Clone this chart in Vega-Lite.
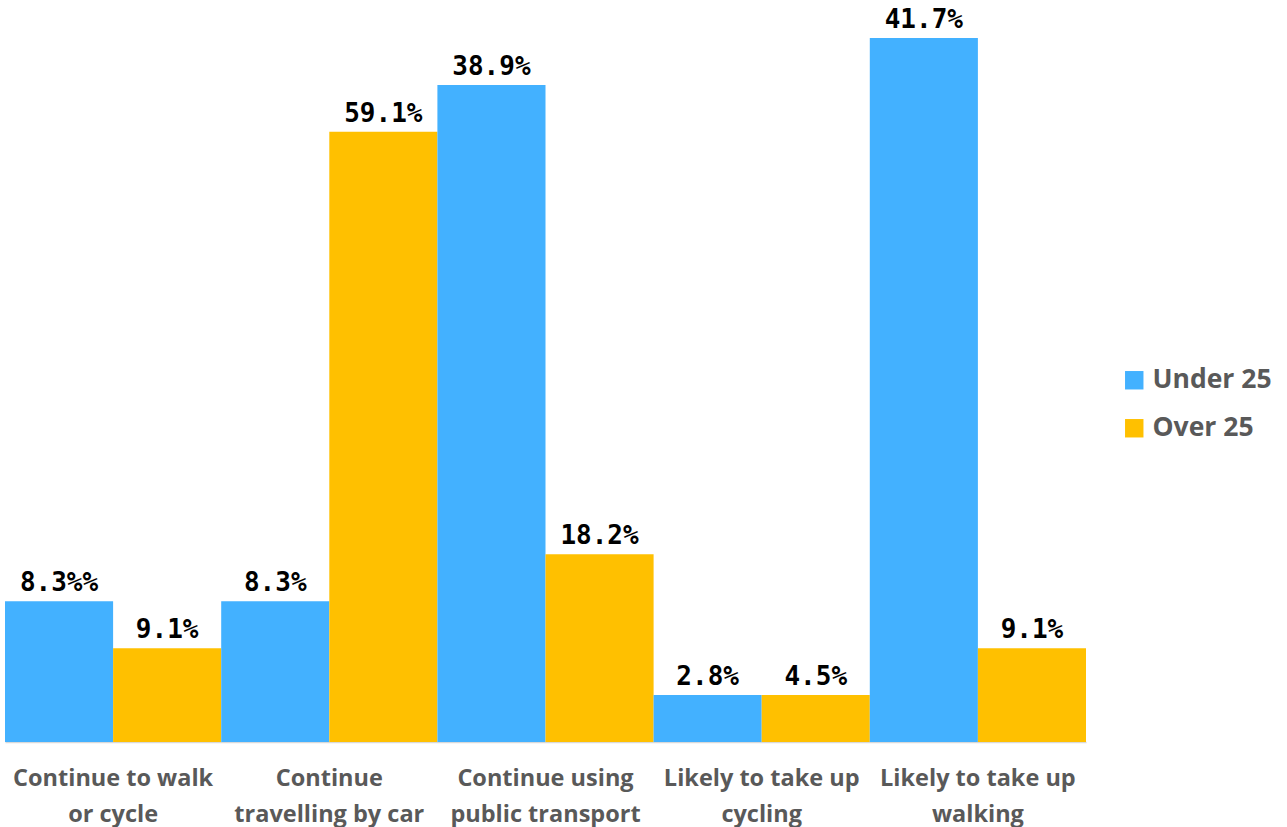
{
  "$schema": "https://vega.github.io/schema/vega-lite/v6.json",
  "width": 1081,
  "height": 704,
  "autosize": "none",
  "padding": {"left": 5, "top": 38, "right": 201, "bottom": 85},
  "background": "white",
  "view": {"stroke": null},
  "data": {
    "values": [
      {"category": "Continue to walk|or cycle", "group": "Under 25", "count": 3, "label": "8.3%%"},
      {"category": "Continue to walk|or cycle", "group": "Over 25", "count": 2, "label": "9.1%"},
      {"category": "Continue|travelling by car", "group": "Under 25", "count": 3, "label": "8.3%"},
      {"category": "Continue|travelling by car", "group": "Over 25", "count": 13, "label": "59.1%"},
      {"category": "Continue using|public transport", "group": "Under 25", "count": 14, "label": "38.9%"},
      {"category": "Continue using|public transport", "group": "Over 25", "count": 4, "label": "18.2%"},
      {"category": "Likely to take up|cycling", "group": "Under 25", "count": 1, "label": "2.8%"},
      {"category": "Likely to take up|cycling", "group": "Over 25", "count": 1, "label": "4.5%"},
      {"category": "Likely to take up|walking", "group": "Under 25", "count": 15, "label": "41.7%"},
      {"category": "Likely to take up|walking", "group": "Over 25", "count": 2, "label": "9.1%"}
    ]
  },
  "encoding": {
    "x": {
      "field": "category",
      "type": "nominal",
      "sort": null,
      "scale": {"paddingInner": 0, "paddingOuter": 0},
      "axis": {
        "title": null,
        "labelAngle": 0,
        "labelExpr": "split(datum.label, '|')",
        "labelFont": "Open Sans",
        "labelFontWeight": "bold",
        "labelFontSize": 23.5,
        "labelColor": "#595959",
        "labelLineHeight": 36,
        "labelPadding": 36,
        "labelBaseline": "middle",
        "labelLimit": 0,
        "ticks": false,
        "domainColor": "#d9d9d9",
        "domainWidth": 1.5
      }
    },
    "xOffset": {"field": "group", "type": "nominal", "sort": ["Under 25", "Over 25"], "scale": {"paddingInner": 0, "paddingOuter": 0}},
    "y": {"field": "count", "type": "quantitative", "scale": {"domain": [0, 15], "nice": false}, "axis": null}
  },
  "layer": [
    {
      "mark": {"type": "bar"},
      "encoding": {
        "color": {
          "field": "group",
          "type": "nominal",
          "scale": {"domain": ["Under 25", "Over 25"], "range": ["#43B1FF", "#FFC000"]},
          "legend": {
            "title": null,
            "orient": "none",
            "legendX": 1116,
            "legendY": 329,
            "symbolType": "square",
            "symbolSize": 340,
            "symbolStrokeWidth": 0,
            "labelFont": "Open Sans",
            "labelFontWeight": "bold",
            "labelFontSize": 26.5,
            "labelColor": "#595959",
            "labelOffset": 5,
            "rowPadding": 21
          }
        }
      }
    },
    {
      "mark": {"type": "text", "baseline": "bottom", "dy": -5, "font": "DejaVu Sans Mono", "fontWeight": "bold", "fontSize": 26, "color": "#000000"},
      "encoding": {"text": {"field": "label"}}
    }
  ]
}
